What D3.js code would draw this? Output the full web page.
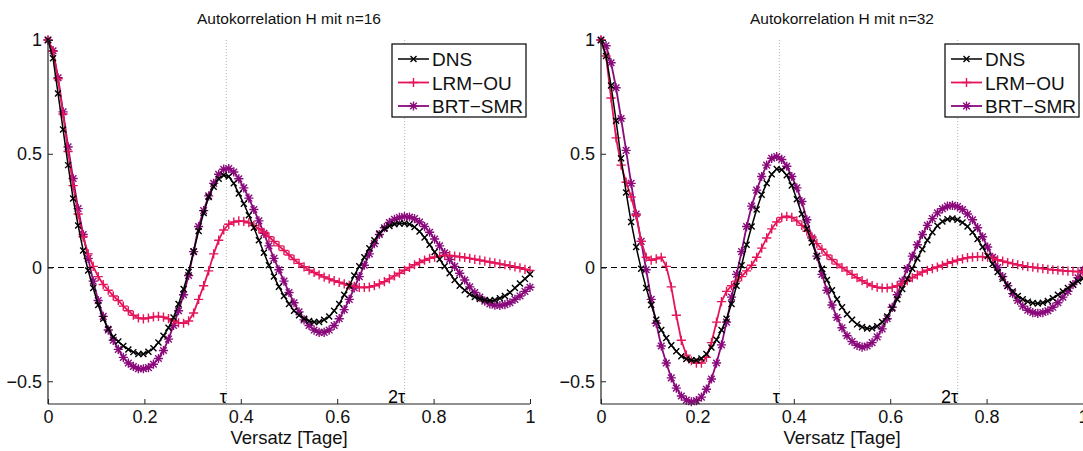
<!DOCTYPE html>
<html><head><meta charset="utf-8">
<script src="https://cdn.jsdelivr.net/npm/d3@7"></script>
<style>
body{margin:0;background:#fff}
svg{display:block;font-family:"Liberation Sans",Arial,Helvetica,sans-serif}
</style>
</head><body>
<svg id="chart" width="1083" height="451"></svg>
<script>
// lag grid (days), 15-minute sampling
const lags = d3.range(97).map(i => i / 96);
const seriesNames = ["DNS", "LRM\u2212OU", "BRT\u2212SMR"];
const panelTitles = ["Autokorrelation H mit n=16", "Autokorrelation H mit n=32"];
const xTickValues = [0, 0.2, 0.4, 0.6, 0.8, 1];
const yTickValues = [-0.5, 0, 0.5, 1];
const tauPositions = [0.37, 0.74];
const tauLabels = ["\u03c4", "2\u03c4"];
const xLabel = "Versatz [Tage]";

// n = 16
const dns16 = [1,0.92,0.765,0.607,0.45,0.303,0.185,0.075,-0.013,-0.09,
 -0.165,-0.225,-0.27,-0.305,-0.325,-0.345,-0.36,-0.372,-0.38,-0.38,
 -0.37,-0.355,-0.33,-0.30,-0.265,-0.22,-0.16,-0.095,-0.02,0.07,
 0.16,0.24,0.31,0.355,0.39,0.405,0.40,0.37,0.325,0.28,
 0.23,0.175,0.12,0.065,0.01,-0.04,-0.085,-0.125,-0.16,-0.19,
 -0.21,-0.225,-0.235,-0.24,-0.24,-0.23,-0.215,-0.19,-0.16,-0.12,
 -0.08,-0.035,0.005,0.045,0.085,0.12,0.15,0.17,0.182,0.19,
 0.193,0.193,0.19,0.178,0.158,0.132,0.1,0.068,0.036,0.005,
 -0.025,-0.055,-0.08,-0.10,-0.118,-0.13,-0.138,-0.143,-0.145,-0.143,
 -0.135,-0.125,-0.11,-0.09,-0.07,-0.05,-0.03];
const lrm16 = [1,0.95,0.83,0.675,0.51,0.36,0.235,0.135,0.06,0.005,
 -0.04,-0.075,-0.10,-0.125,-0.145,-0.17,-0.19,-0.21,-0.222,-0.226,
 -0.222,-0.217,-0.215,-0.218,-0.225,-0.235,-0.243,-0.245,-0.235,-0.2,
 -0.14,-0.08,-0.015,0.06,0.12,0.165,0.19,0.2,0.205,0.203,
 0.197,0.185,0.17,0.155,0.135,0.115,0.095,0.075,0.055,0.035,
 0.018,0.003,-0.012,-0.022,-0.032,-0.042,-0.05,-0.058,-0.065,-0.072,
 -0.078,-0.083,-0.087,-0.088,-0.086,-0.08,-0.072,-0.062,-0.05,-0.037,
 -0.025,-0.012,0.0,0.012,0.022,0.032,0.04,0.046,0.05,0.053,
 0.053,0.05,0.047,0.044,0.04,0.036,0.032,0.028,0.024,0.02,
 0.016,0.012,0.008,0.003,-0.002,-0.008,-0.013];
const brt16 = [1,0.953,0.834,0.684,0.53,0.391,0.259,0.145,0.04,-0.06,
 -0.145,-0.215,-0.275,-0.32,-0.36,-0.395,-0.42,-0.435,-0.445,-0.445,
 -0.44,-0.425,-0.40,-0.365,-0.315,-0.255,-0.19,-0.12,-0.035,0.07,
 0.18,0.25,0.315,0.37,0.41,0.432,0.435,0.42,0.39,0.35,
 0.305,0.255,0.205,0.15,0.095,0.04,-0.01,-0.06,-0.11,-0.155,
 -0.195,-0.23,-0.255,-0.275,-0.285,-0.285,-0.275,-0.255,-0.225,-0.185,
 -0.14,-0.09,-0.04,0.01,0.06,0.105,0.145,0.175,0.198,0.212,
 0.22,0.224,0.222,0.215,0.2,0.18,0.155,0.125,0.095,0.065,
 0.035,0.005,-0.025,-0.055,-0.085,-0.11,-0.13,-0.148,-0.16,-0.166,
 -0.167,-0.163,-0.155,-0.14,-0.125,-0.105,-0.087];

// n = 32
const dns32 = [1,0.93,0.80,0.645,0.48,0.33,0.20,0.09,-0.006,-0.09,
 -0.165,-0.23,-0.275,-0.31,-0.342,-0.368,-0.39,-0.402,-0.408,-0.408,
 -0.40,-0.38,-0.352,-0.318,-0.275,-0.225,-0.16,-0.08,0.01,0.10,
 0.18,0.255,0.32,0.37,0.41,0.433,0.43,0.405,0.36,0.30,
 0.235,0.17,0.11,0.05,-0.005,-0.055,-0.10,-0.14,-0.175,-0.205,
 -0.23,-0.25,-0.262,-0.268,-0.267,-0.258,-0.24,-0.215,-0.18,-0.14,
 -0.095,-0.05,-0.005,0.04,0.08,0.12,0.155,0.183,0.202,0.212,
 0.215,0.21,0.198,0.18,0.155,0.125,0.09,0.05,0.015,-0.02,
 -0.05,-0.08,-0.105,-0.125,-0.14,-0.15,-0.156,-0.158,-0.155,-0.147,
 -0.135,-0.12,-0.105,-0.09,-0.075,-0.06,-0.048];
const lrm32 = [1,0.93,0.745,0.57,0.45,0.375,0.31,0.23,0.115,0.045,
 0.032,0.038,0.045,0.005,-0.085,-0.21,-0.32,-0.385,-0.41,-0.42,
 -0.42,-0.395,-0.33,-0.24,-0.15,-0.105,-0.08,-0.06,-0.04,-0.015,
 0.01,0.045,0.085,0.13,0.17,0.2,0.22,0.225,0.22,0.205,
 0.185,0.16,0.135,0.105,0.08,0.055,0.035,0.015,0.0,-0.015,
 -0.03,-0.045,-0.058,-0.07,-0.08,-0.087,-0.09,-0.09,-0.087,-0.08,
 -0.07,-0.058,-0.045,-0.032,-0.02,-0.012,-0.005,0.002,0.01,0.018,
 0.025,0.032,0.038,0.043,0.046,0.048,0.048,0.045,0.04,0.034,
 0.028,0.022,0.017,0.012,0.008,0.004,0.001,-0.002,-0.005,-0.008,
 -0.01,-0.012,-0.014,-0.016,-0.017,-0.018,-0.019];
const brt32 = [1,0.975,0.90,0.79,0.655,0.515,0.37,0.235,0.115,-0.01,
 -0.14,-0.245,-0.345,-0.42,-0.485,-0.53,-0.565,-0.583,-0.59,-0.585,
 -0.57,-0.535,-0.49,-0.42,-0.34,-0.24,-0.13,-0.03,0.07,0.18,
 0.27,0.34,0.40,0.45,0.48,0.488,0.475,0.445,0.40,0.35,
 0.29,0.21,0.13,0.05,-0.03,-0.10,-0.165,-0.22,-0.265,-0.30,
 -0.325,-0.342,-0.35,-0.345,-0.33,-0.305,-0.27,-0.225,-0.175,-0.12,
 -0.06,-0.005,0.05,0.10,0.145,0.185,0.215,0.24,0.258,0.27,
 0.273,0.268,0.255,0.235,0.21,0.175,0.135,0.09,0.045,0.0,
 -0.04,-0.08,-0.115,-0.145,-0.17,-0.188,-0.198,-0.202,-0.198,-0.19,
 -0.175,-0.155,-0.13,-0.105,-0.075,-0.045,-0.012];

const colors = ["#000000", "#e5155a", "#8a0a7c"];
const markerTypes = ["x", "+", "*"];
const lineWidths = [1.5, 1.8, 1.8];
const markerSizes = [3, 4.6, 4.6];

const panels = [
  {title: panelTitles[0], data: [dns16, lrm16, brt16], left: 48, right: 530},
  {title: panelTitles[1], data: [dns32, lrm32, brt32], left: 601, right: 1083}
];
const plotTop = 40, plotBottom = 404;

const svg = d3.select("#chart");

function markerPath(type, s) {
  const d = s * 0.72;
  if (type === "x") return `M${-s},${-s}L${s},${s}M${-s},${s}L${s},${-s}`;
  if (type === "+") return `M${-s},0L${s},0M0,${-s}L0,${s}`;
  return `M${-s},0L${s},0M0,${-s}L0,${s}M${-d},${-d}L${d},${d}M${-d},${d}L${d},${-d}`;
}

panels.forEach(p => {
  const x = d3.scaleLinear().domain([0, 1]).range([p.left, p.right]);
  const y = d3.scaleLinear().domain([-0.6, 1]).range([plotBottom, plotTop]);
  const g = svg.append("g");

  // tau guide lines
  tauPositions.forEach((t, i) => {
    g.append("line").attr("x1", x(t)).attr("x2", x(t)).attr("y1", y(1)).attr("y2", y(-0.6))
      .attr("stroke", "#b8b8b8").attr("stroke-width", 1).attr("stroke-dasharray", "1,2");
    g.append("text").attr("x", x(t) + 0.5).attr("y", plotBottom - 1).attr("text-anchor", "end")
      .attr("font-size", 18).attr("fill", "#000").text(tauLabels[i]);
  });

  // zero line
  g.append("line").attr("x1", x(0)).attr("x2", x(1)).attr("y1", y(0)).attr("y2", y(0))
    .attr("stroke", "#000").attr("stroke-width", 1).attr("stroke-dasharray", "6,4");

  // series: draw BRT, LRM, DNS (DNS on top)
  [2, 1, 0].forEach(si => {
    const vals = p.data[si];
    const pts = lags.map((l, i) => [l, vals[i]]);
    const line = d3.line().x(d => x(d[0])).y(d => y(d[1]));
    g.append("path").attr("d", line(pts)).attr("fill", "none")
      .attr("stroke", colors[si]).attr("stroke-width", lineWidths[si]);
    g.append("g").selectAll("path").data(pts).join("path")
      .attr("transform", d => `translate(${x(d[0])},${y(d[1])})`)
      .attr("d", markerPath(markerTypes[si], markerSizes[si]))
      .attr("stroke", colors[si]).attr("stroke-width", 1.4).attr("fill", "none");
  });

  // axes
  const fmt = d3.format("");
  const xAxis = d3.axisBottom(x).tickValues(xTickValues).tickSizeInner(-5).tickSizeOuter(0)
    .tickPadding(6).tickFormat(fmt);
  const yAxis = d3.axisLeft(y).tickValues(yTickValues).tickSizeInner(-5).tickSizeOuter(0)
    .tickPadding(6).tickFormat(fmt);
  const gx = g.append("g").attr("transform", `translate(0,${plotBottom})`).call(xAxis);
  const gy = g.append("g").attr("transform", `translate(${p.left},0)`).call(yAxis);
  [gx, gy].forEach(a => {
    a.attr("font-family", null);
    a.selectAll("text").attr("font-size", 18).attr("fill", "#111");
    a.selectAll("line").attr("stroke", "#222");
    a.select(".domain").attr("stroke", "#222").attr("stroke-width", 1.2);
  });
  gy.select(".domain").attr("d", `M0,${plotTop}V${plotBottom}`);
  gx.select(".domain").attr("d", `M${p.left},0H${p.right}`);

  // title
  g.append("text").attr("x", (p.left + p.right) / 2).attr("y", 24).attr("text-anchor", "middle")
    .attr("font-size", 15.5).attr("fill", "#111").text(p.title);
  // x label
  g.append("text").attr("x", (p.left + p.right) / 2).attr("y", 444).attr("text-anchor", "middle")
    .attr("font-size", 18.5).attr("fill", "#111").text(xLabel);

  // legend
  const lx = p.left + 344, ly = 44, lw = 134, lh = 73;
  const lg = g.append("g");
  lg.append("rect").attr("x", lx).attr("y", ly).attr("width", lw).attr("height", lh)
    .attr("fill", "#fff").attr("stroke", "#000").attr("stroke-width", 1.2);
  seriesNames.forEach((name, si) => {
    const cy = ly + 15 + si * 23.5;
    lg.append("line").attr("x1", lx + 6).attr("x2", lx + 37).attr("y1", cy).attr("y2", cy)
      .attr("stroke", colors[si]).attr("stroke-width", lineWidths[si]);
    lg.append("path").attr("transform", `translate(${lx + 21.5},${cy})`)
      .attr("d", markerPath(markerTypes[si], markerSizes[si]))
      .attr("stroke", colors[si]).attr("stroke-width", 1.4).attr("fill", "none");
    lg.append("text").attr("x", lx + 40).attr("y", cy + 7).attr("font-size", 19)
      .attr("fill", "#111").text(name);
  });
});
</script>
</body></html>
